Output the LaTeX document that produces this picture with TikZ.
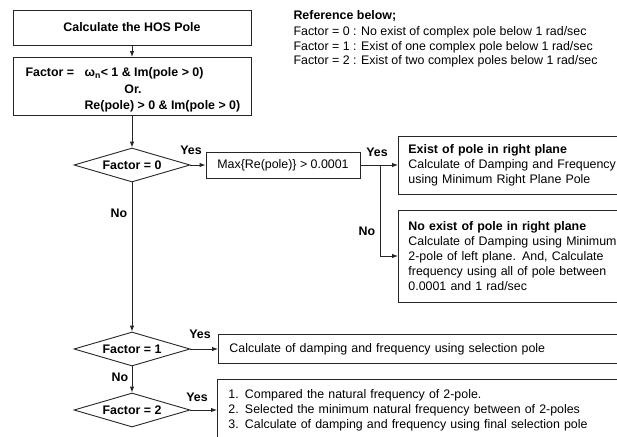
\documentclass[tikz,border=0pt]{standalone}
\usepackage{fontspec}
\setmainfont{Liberation Sans}
\usetikzlibrary{shapes.geometric,arrows.meta}
\begin{document}
\begin{tikzpicture}[x=1pt,y=-1pt,
  box/.style={draw=black!85, line width=0.9pt, fill=white, inner sep=0pt},
  txt/.style={font=\fontsize{12.4}{15}\selectfont},
  btxt/.style={font=\fontsize{12.4}{15}\selectfont\bfseries},
  dia/.style={diamond, draw=black!85, line width=0.9pt, minimum width=116pt, minimum height=34pt, inner sep=0pt},
  rbox/.style={box, anchor=west, text width=400pt, inner xsep=10pt, align=left, txt},
  arr/.style={draw=black!85, line width=0.9pt, -{Latex[length=6pt,width=4.5pt]}}]
\useasboundingbox (0,0) rectangle (617,436);
\clip (0,0) rectangle (617,436);
% top boxes
\node[box, minimum width=238pt, minimum height=35pt, btxt] (b1) at (132,27.5) {Calculate the HOS Pole};
\node[box, minimum width=238pt, minimum height=58pt] (b2) at (132,86.5) {};
\node[btxt, anchor=base west] (f1) at (22,76.5) {Factor =};
\node[btxt, anchor=base west] (f2) at (81,76.5) {ω\textsubscript{n}< 1 \& Im(pole > 0)};
\node[btxt, anchor=base] (f3) at (133,93.5) {Or.};
\node[btxt, anchor=base west] (f4) at (81,109.5) {Re(pole) > 0 \& Im(pole > 0)};
\draw[arr] (b1) -- (b2);
% legend
\node[btxt, anchor=base west] (l0) at (290,19.5) {Reference below;};
\node[txt, anchor=base west] (l1) at (290,35.5) {Factor = 0 : No exist of complex pole below 1 rad/sec};
\node[txt, anchor=base west] (l2) at (290,50) {Factor = 1 : Exist of one complex pole below 1 rad/sec};
\node[txt, anchor=base west] (l3) at (290,64.5) {Factor = 2 : Exist of two complex poles below 1 rad/sec};
% factor 0
\node[dia] (d0) at (132,165) {};
\node[btxt] (t0) at (d0) {Factor = 0};
\draw[arr] (b2) -- (d0);
\node[box, minimum width=154pt, minimum height=26pt, txt] (b3) at (283,165) {Max\{Re(pole)\} > 0.0001};
\draw[arr] (d0.east) -- (b3.west);
\node[btxt] (y0) at (191,150) {Yes};
\node[rbox, minimum height=58pt] (b4) at (398,165) {\textbf{Exist of pole in right plane}\\Calculate of Damping and Frequency\\using Minimum Right Plane Pole};
\draw[arr] (b3.east) -- (b4.west);
\coordinate (br) at (380,165);
\node[rbox, minimum height=92pt] (b5) at (398,256) {\textbf{No exist of pole in right plane}\\Calculate of Damping using Minimum\\2-pole of left plane. And, Calculate\\frequency using all of pole between\\0.0001 and 1 rad/sec};
\draw[arr] (br) |- (b5.west);
\node[btxt] (y1) at (377,152) {Yes};
\node[btxt] (n1) at (367,231) {No};
% factor 1
\node[dia] (d1) at (132,349) {};
\node[btxt] (t1) at (d1) {Factor = 1};
\draw[arr] (d0.south) -- (d1.north);
\node[btxt] (n0) at (119,213) {No};
\node[rbox, inner xsep=11pt, minimum height=29pt] (b6) at (218,349) {Calculate of damping and frequency using selection pole};
\draw[arr] (d1.east) -- (b6.west);
\node[btxt] (y2) at (200,334) {Yes};
% factor 2
\node[dia] (d2) at (132,410) {};
\node[btxt] (t2) at (d2) {Factor = 2};
\draw[arr] (d1.south) -- (d2.north);
\node[btxt] (n2) at (120,377) {No};
\node[rbox, inner xsep=11pt, minimum height=62pt] (b7) at (217,410) {1. Compared the natural frequency of 2-pole.\\2. Selected the minimum natural frequency between of 2-poles\\3. Calculate of damping and frequency using final selection pole};
\draw[arr] (d2.east) -- (b7.west);
\node[btxt] (y3) at (197,397) {Yes};
\end{tikzpicture}
\end{document}
